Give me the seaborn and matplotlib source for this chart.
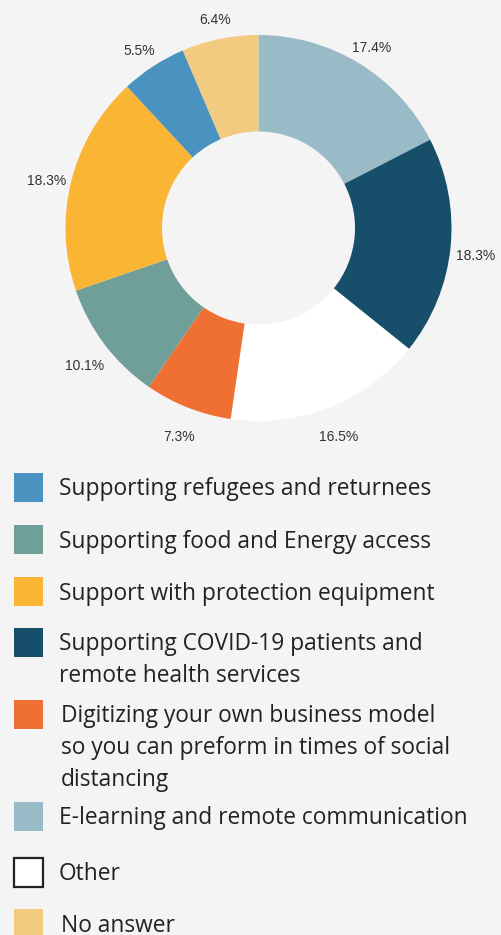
import matplotlib.pyplot as plt
import seaborn as sns
from matplotlib.patches import Rectangle

sns.set_theme(style='white')
plt.rcParams['font.family'] = ['Open Sans', 'DejaVu Sans']

# slices, clockwise from 12 o'clock
slices = ['E-learning and remote communication',
          'Supporting COVID-19 patients and\nremote health services',
          'Other',
          'Digitizing your own business model\nso you can preform in times of social\ndistancing',
          'Supporting food and Energy access',
          'Support with protection equipment',
          'Supporting refugees and returnees',
          'No answer']
values = [17.4, 18.3, 16.5, 7.3, 10.1, 18.3, 5.5, 6.4]
colors = ['#98bbc7', '#174f6b', '#ffffff', '#f07033',
          '#709e99', '#fbb534', '#4a92bf', '#f2cb80']

# legend order as in the reference
legend_order = [6, 4, 5, 1, 3, 0, 2, 7]

bg = '#f4f4f4'
W, H = 502, 935
fig = plt.figure(figsize=(W / 100, H / 100), dpi=100)
fig.patch.set_facecolor(bg)

# pie area: top 460 px, centre at (258.5, 228), outer radius 193 px
r = 193.0
cx, cy = 258.5, 228.0
ax = fig.add_axes([0, 1 - 460 / H, 1, 460 / H])
ax.set_facecolor(bg)
wedges, texts = ax.pie(
    values,
    labels=[f'{v}%' for v in values],
    colors=colors,
    startangle=90,
    counterclock=False,
    labeldistance=1.13,
    radius=1,
    wedgeprops={'width': 0.5, 'linewidth': 0},
    textprops={'fontsize': 10, 'color': '#333333', 'family': ['Liberation Sans', 'DejaVu Sans']},
)
for t in texts:
    t.set_ha('center')
    t.set_va('center')
    x, y = t.get_position()
    t.set_position((x, y - 6 / r))
ax.set_xlim(-cx / r, (W - cx) / r)
ax.set_ylim(-(460 - cy) / r, cy / r)
ax.set_aspect('auto')
ax.axis('off')

# legend rows (pixel y of square centres)
row_y = [487, 539, 591, 642, 714, 816, 872, 924]
text_x = [59, 59, 59, 59, 61, 59, 59, 61]
line_h = 31.7
for k, i in enumerate(legend_order):
    yc = row_y[k]
    white = colors[i] == '#ffffff'
    sq = Rectangle((14 / W, 1 - (yc + 14.5) / H), 29 / W, 29 / H,
                   transform=fig.transFigure, facecolor=colors[i],
                   edgecolor='#222222' if white else colors[i],
                   linewidth=1.6 if white else 0)
    fig.patches.append(sq)
    for j, line in enumerate(slices[i].split('\n')):
        fig.text(text_x[k] / W, 1 - (yc + 8.5 + j * line_h) / H, line,
                 ha='left', va='baseline', fontsize=16.4, color='#222222')

fig.savefig('out.png', dpi=100, facecolor=bg)
